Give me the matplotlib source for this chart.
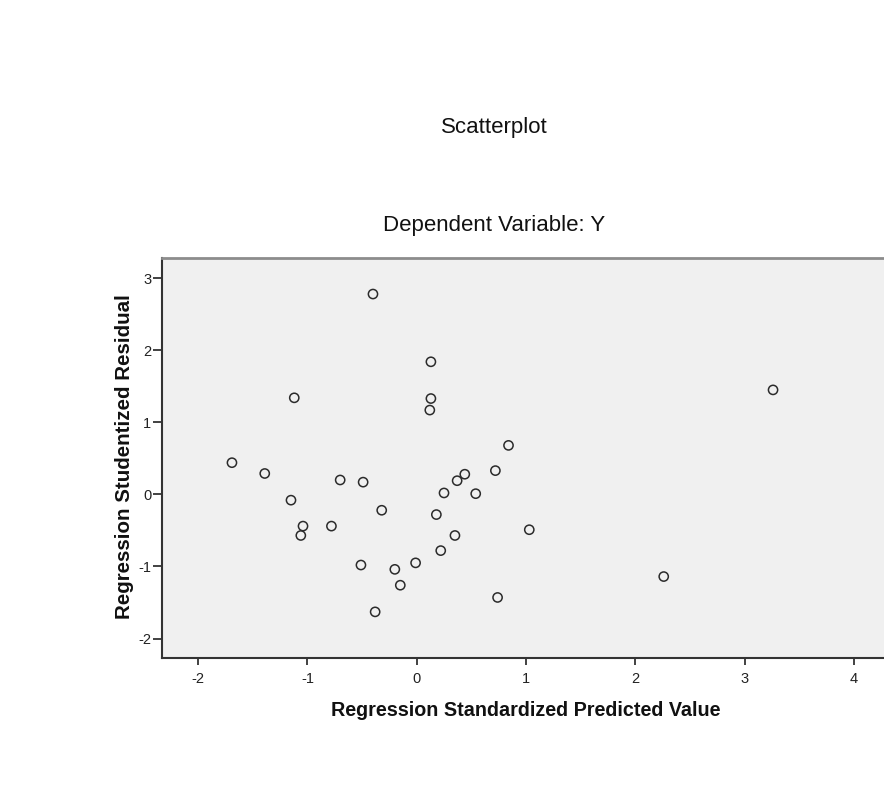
import matplotlib
matplotlib.use("Agg")
import matplotlib.pyplot as plt

# standardized predicted value vs studentized residual
pred_std = [-0.40, 0.13, 0.13, 0.12, -1.12,
            -1.69, -1.39, -1.15, -1.04, -1.06, -0.78, -0.70, -0.49, -0.32,
            -0.51, -0.20, -0.15, -0.38, -0.01, 0.25, 0.18, 0.22, 0.35,
            0.37, 0.44, 0.54, 0.72, 0.74, 1.03,
            0.84, 2.26, 3.26]
resid_stud = [2.78, 1.84, 1.33, 1.17, 1.34,
              0.44, 0.29, -0.08, -0.44, -0.57, -0.44, 0.20, 0.17, -0.22,
              -0.98, -1.04, -1.26, -1.63, -0.95, 0.02, -0.28, -0.78, -0.57,
              0.19, 0.28, 0.01, 0.33, -1.43, -0.49,
              0.68, -1.14, 1.45]

x_ticks = [-2, -1, 0, 1, 2, 3, 4]
y_ticks = [-2, -1, 0, 1, 2, 3]

W, H = 884, 795
fig = plt.figure(figsize=(W / 100, H / 100), dpi=100)
plt.rcParams['font.family'] = ['Liberation Sans', 'DejaVu Sans']

# axes box runs a little past the right edge, as in the reference
ax = fig.add_axes([162 / W, 1 - 658 / H, (890 - 162) / W, 400 / H])
ax.set_facecolor('#f0f0f0')

ax.scatter(pred_std, resid_stud, s=44, facecolors='none',
           edgecolors='#2b2b2b', linewidths=1.1, zorder=3)

ax.set_xlim(-2.33, 4.33)
ax.set_ylim(-2.27, 3.28)
ax.set_xticks(x_ticks)
ax.set_yticks(y_ticks)
ax.set_xticklabels([str(t) for t in x_ticks])
ax.set_yticklabels([str(t) for t in y_ticks])

for side in ['left', 'bottom']:
    ax.spines[side].set_color('#333333')
    ax.spines[side].set_linewidth(1.5)
ax.spines['top'].set_color('#8c8c8c')
ax.spines['top'].set_linewidth(2.0)
ax.spines['right'].set_visible(False)

ax.tick_params(axis='x', direction='out', length=5, width=1.3,
               color='#333333', labelsize=10.5, labelcolor='#222222', pad=5)
ax.tick_params(axis='y', direction='out', length=6.5, width=1.3,
               color='#333333', labelsize=10.5, labelcolor='#222222', pad=1.2)

fig.text(494 / W, 1 - 128 / H, 'Scatterplot', ha='center', va='center',
         fontsize=16, color='#111111')
fig.text(494 / W, 1 - 226 / H, 'Dependent Variable: Y', ha='center',
         va='center', fontsize=16, color='#111111')
fig.text(526 / W, 1 - 711 / H, 'Regression Standardized Predicted Value',
         ha='center', va='center', fontsize=14.2, fontweight='bold',
         color='#111111')
fig.text(124 / W, 1 - 457 / H, 'Regression Studentized Residual',
         ha='center', va='center', rotation=90, fontsize=14.8,
         fontweight='bold', color='#111111')

fig.savefig('out.png', dpi=100, facecolor='white')
